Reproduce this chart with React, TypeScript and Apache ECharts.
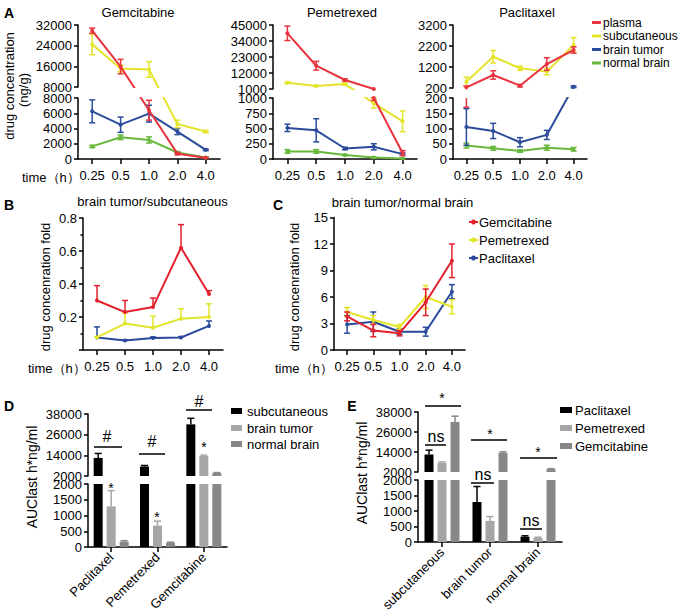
import React, { useEffect, useRef } from 'react';
import * as echarts from 'echarts';

const FONT = '"Liberation Sans", Arial, Helvetica, sans-serif';

// ---------------- Panel A data ----------------
const times = ['0.25', '0.5', '1.0', '2.0', '4.0'];
const tissues = ['plasma', 'subcutaneous', 'brain tumor', 'normal brain'];
const drugTitles = ['Gemcitabine', 'Pemetrexed', 'Paclitaxel'];

const gemPlasma = [29800, 15900, 6400, 700, 170];
const gemPlasmaErr = [1000, 2800, 1300, 150, 50];
const gemSubc = [24500, 15200, 14800, 4600, 3600];
const gemSubcErr = [4000, 1300, 3000, 500, 150];
const gemTumor = [6250, 4500, 5950, 3600, 1200];
const gemTumorErr = [1500, 1000, 1100, 400, 100];
const gemNormal = [1650, 2850, 2500, 850, 200];
const gemNormalErr = [150, 300, 400, 100, 50];

const pemPlasma = [39300, 17000, 7200, 1000, 97];
const pemPlasmaErr = [5000, 3000, 800, 40, 40];
const pemSubc = [5300, 3100, 4400, 915, 618];
const pemSubcErr = [600, 400, 800, 80, 170];
const pemTumor = [510, 470, 172, 200, 80];
const pemTumorErr = [60, 190, 20, 50, 20];
const pemNormal = [124, 124, 65, 25, 10];
const pemNormalErr = [30, 30, 10, 8, 5];

const pacPlasma = [230, 820, 310, 1340, 2010];
const pacPlasmaErr = [60, 200, 60, 300, 150];
const pacSubc = [500, 1690, 1140, 980, 2250];
const pacSubcErr = [220, 300, 100, 150, 350];
const pacTumor = [105, 92, 55, 79, 260];
const pacTumorErr = [60, 25, 15, 15, 40];
const pacNormal = [44, 35, 26, 37, 32];
const pacNormalErr = [8, 6, 4, 8, 6];

// broken y-axis ranges [min, max, interval]
const gemUpperAxis = [8000, 32000, 8000];
const gemLowerAxis = [0, 8000, 2000];
const pemUpperAxis = [1000, 45000, 11000];
const pemLowerAxis = [0, 1000, 250];
const pacUpperAxis = [200, 3200, 1000];
const pacLowerAxis = [0, 200, 50];

// ---------------- Panel B / C data ----------------
const ratioDrugs = ['Gemcitabine', 'Pemetrexed', 'Paclitaxel'];
const bGem = [0.3, 0.23, 0.26, 0.62, 0.34];
const bGemErr = [0.09, 0.07, 0.055, 0.14, 0.02];
const bPem = [0.076, 0.16, 0.135, 0.19, 0.2];
const bPemErr = [0.006, 0.065, 0.07, 0.06, 0.08];
const bPac = [0.076, 0.057, 0.073, 0.076, 0.146];
const bPacErr = [0.064, 0.005, 0.006, 0.005, 0.03];
const bAxis = [0, 0.8, 0.2];

const cGem = [3.8, 2.2, 1.9, 5.4, 10.1];
const cGemErr = [0.5, 0.7, 0.3, 1.5, 1.9];
const cPem = [4.3, 3.4, 2.6, 6.0, 4.9];
const cPemErr = [0.5, 0.5, 0.3, 1.3, 0.8];
const cPac = [2.9, 3.2, 2.07, 2.07, 6.6];
const cPacErr = [1.0, 1.1, 0.3, 0.5, 0.8];
const cAxis = [0, 15, 3];

// ---------------- Panel D / E data ----------------
const aucDrugs = ['Paclitaxel', 'Pemetrexed', 'Gemcitabine'];
const aucTissues = ['subcutaneous', 'brain tumor', 'normal brain'];
const aucSubc = [12500, 7500, 32000];
const aucSubcErr = [2600, 600, 3500];
const aucTumor = [1290, 680, 13600];
const aucTumorErr = [500, 140, 500];
const aucNormal = [170, 135, 3700];
const aucNormalErr = [30, 20, 300];
const aucUpperAxis = [2000, 38000, 12000];
const aucLowerAxis = [0, 2000, 500];

// ---------------- styles / layout ----------------
const tissueColors = ['#e8343f', '#e4e42c', '#2b4c9b', '#68b83c'];
const ratioColors = ['#e3202c', '#e2e52a', '#2a4a9c'];
const barColors = ['#000000', '#a6a6a6', '#878787'];

const grids = [
  { left: 78, top: 25, width: 142, height: 62 },
  { left: 78, top: 98, width: 142, height: 61 },
  { left: 273, top: 25, width: 144, height: 64 },
  { left: 273, top: 98, width: 144, height: 61 },
  { left: 453, top: 25, width: 134, height: 63 },
  { left: 453, top: 98, width: 134, height: 61 },
  { left: 83, top: 218, width: 140, height: 132 },
  { left: 334, top: 217.5, width: 131, height: 132.5 },
  { left: 88, top: 414, width: 139, height: 62 },
  { left: 88, top: 484, width: 139, height: 63 },
  { left: 418, top: 412, width: 144, height: 60 },
  { left: 418, top: 480, width: 144, height: 62 },
];

// Map a value into one segment of a broken axis so that a line keeps the
// piecewise (upper / gap / lower) geometry and is clipped by its own grid.
function mapBroken(v: number, seg: number, up: number[], lo: number[], gU: any, gL: any) {
  const uPPU = gU.height / (up[1] - up[0]);
  const lPPU = gL.height / (lo[1] - lo[0]);
  const gapPx = gL.top - (gU.top + gU.height);
  if (seg === 0) {
    if (v >= up[0]) return v;
    const px = gapPx + (lo[1] - v) * lPPU;
    return up[0] - px / uPPU;
  }
  if (v <= lo[1]) return v;
  const px = gapPx + (v - up[0]) * uPPU;
  return lo[1] + px / lPPU;
}

const errorBar =
  (color: string, offset: number, twoSided: boolean, cap: number, width: number) =>
  (params: any, api: any) => {
    const i = api.value(0);
    const lo = api.value(1);
    const hi = api.value(2);
    const cs = params.coordSys;
    const top = api.coord([i, hi]);
    const bot = api.coord([i, lo]);
    const x = top[0] + offset;
    const yMin = cs.y;
    const yMax = cs.y + cs.height;
    const y1 = top[1];
    const y2 = bot[1];
    if (y2 < yMin + 0.5 || y1 > yMax - 0.5) return null;
    const st = { stroke: color, lineWidth: width };
    const children: any[] = [
      { type: 'line', shape: { x1: x, y1: Math.max(y1, yMin), x2: x, y2: Math.min(y2, yMax) }, style: st },
    ];
    if (y1 >= yMin - 0.5) children.push({ type: 'line', shape: { x1: x - cap, y1, x2: x + cap, y2: y1 }, style: st });
    if (twoSided && y2 <= yMax + 0.5)
      children.push({ type: 'line', shape: { x1: x - cap, y1: y2, x2: x + cap, y2 }, style: st });
    return { type: 'group', children };
  };

function xAxisDef(gridIndex: number, data: string[], show: boolean, rotate = 0) {
  return {
    type: 'category',
    gridIndex,
    data,
    show,
    boundaryGap: true,
    axisLine: { show: true, onZero: false, lineStyle: { color: '#000', width: 1.5 } },
    axisTick: { show: true, alignWithLabel: true, length: 5, lineStyle: { color: '#000', width: 1.5 } },
    axisLabel: {
      color: '#000',
      fontSize: 13,
      fontFamily: FONT,
      margin: rotate ? 8 : 10,
      interval: 0,
      rotate,
    },
  };
}

function yAxisDef(gridIndex: number, ax: number[], extra: any = {}) {
  return {
    type: 'value',
    gridIndex,
    min: ax[0],
    max: ax[1],
    interval: ax[2],
    splitLine: { show: false },
    axisLine: { show: true, lineStyle: { color: '#000', width: 1.5 } },
    axisTick: { show: true, length: 4, lineStyle: { color: '#000', width: 1.5 } },
    axisLabel: {
      color: '#000',
      fontSize: 13,
      fontFamily: FONT,
      margin: 6,
      showMinLabel: true,
      showMaxLabel: true,
      formatter: (v: number) => String(v),
    },
    ...extra,
  };
}

function buildOption() {
  const xAxis: any[] = [];
  const yAxis: any[] = [];
  const series: any[] = [];

  // ---- Panel A ----
  const aValues = [
    [gemPlasma, gemSubc, gemTumor, gemNormal],
    [pemPlasma, pemSubc, pemTumor, pemNormal],
    [pacPlasma, pacSubc, pacTumor, pacNormal],
  ];
  const aErrs = [
    [gemPlasmaErr, gemSubcErr, gemTumorErr, gemNormalErr],
    [pemPlasmaErr, pemSubcErr, pemTumorErr, pemNormalErr],
    [pacPlasmaErr, pacSubcErr, pacTumorErr, pacNormalErr],
  ];
  const aAxes = [
    [gemUpperAxis, gemLowerAxis],
    [pemUpperAxis, pemLowerAxis],
    [pacUpperAxis, pacLowerAxis],
  ];
  for (let d = 0; d < 3; d++) {
    const gU = grids[d * 2];
    const gL = grids[d * 2 + 1];
    const [up, lo] = aAxes[d];
    for (let s = 0; s < 2; s++) {
      const gi = d * 2 + s;
      xAxis.push(xAxisDef(gi, times, s === 1));
      yAxis.push(yAxisDef(gi, aAxes[d][s]));
      const m = (v: number) => mapBroken(v, s, up, lo, gU, gL);
      for (let t = 3; t >= 0; t--) {
        const color = tissueColors[t];
        const vals = aValues[d][t];
        const errs = aErrs[d][t];
        series.push({
          type: 'line',
          name: tissues[t],
          xAxisIndex: gi,
          yAxisIndex: gi,
          data: vals.map(m),
          clip: true,
          symbol: 'circle',
          symbolSize: 4,
          lineStyle: { color, width: 2 },
          itemStyle: { color },
          z: 10 - t,
        });
        series.push({
          type: 'custom',
          xAxisIndex: gi,
          yAxisIndex: gi,
          data: vals.map((v, i) => [i, m(v - errs[i]), m(v + errs[i])]),
          renderItem: errorBar(color, 0, true, 3, 1.5),
          z: 10 - t,
        });
      }
    }
  }

  // ---- Panel B ----
  xAxis.push(xAxisDef(6, times, true));
  yAxis.push(
    yAxisDef(6, bAxis, {
      minorTick: { show: true, splitNumber: 2, length: 2.5, lineStyle: { color: '#000', width: 1.5 } },
      minorSplitLine: { show: false },
      axisLabel: {
        color: '#000',
        fontSize: 13,
        fontFamily: FONT,
        margin: 6,
        formatter: (v: number) => (v === 0 ? '' : v.toFixed(1)),
      },
    })
  );
  const bVals = [bGem, bPem, bPac];
  const bErrs = [bGemErr, bPemErr, bPacErr];
  for (let k = 2; k >= 0; k--) {
    const color = ratioColors[k];
    series.push({
      type: 'line',
      name: ratioDrugs[k],
      xAxisIndex: 6,
      yAxisIndex: 6,
      data: bVals[k],
      symbol: 'circle',
      symbolSize: 4,
      lineStyle: { color, width: 2 },
      itemStyle: { color },
      z: 10 - k,
    });
    series.push({
      type: 'custom',
      xAxisIndex: 6,
      yAxisIndex: 6,
      data: bVals[k].map((v, i) => [i, v, v + bErrs[k][i]]),
      renderItem: errorBar(color, 0, false, 3, 1.5),
      z: 10 - k,
    });
  }

  // ---- Panel C ----
  xAxis.push(xAxisDef(7, times, true));
  yAxis.push(yAxisDef(7, cAxis));
  const cVals = [cGem, cPem, cPac];
  const cErrs = [cGemErr, cPemErr, cPacErr];
  for (const k of [1, 2, 0]) {
    const color = ratioColors[k];
    series.push({
      type: 'line',
      name: ratioDrugs[k],
      xAxisIndex: 7,
      yAxisIndex: 7,
      data: cVals[k],
      symbol: 'circle',
      symbolSize: 4,
      lineStyle: { color, width: 2 },
      itemStyle: { color },
      z: 10 - k,
    });
    series.push({
      type: 'custom',
      xAxisIndex: 7,
      yAxisIndex: 7,
      data: cVals[k].map((v, i) => [i, v - cErrs[k][i], v + cErrs[k][i]]),
      renderItem: errorBar(color, 0, true, 3, 1.5),
      z: 10 - k,
    });
  }

  // ---- Panels D and E ----
  const byTissue = [aucSubc, aucTumor, aucNormal];
  const byTissueErr = [aucSubcErr, aucTumorErr, aucNormalErr];
  const barW = 9;
  const gap = 4;
  for (let s = 0; s < 2; s++) {
    // D: categories = drugs, series = tissues
    const gi = 8 + s;
    xAxis.push(xAxisDef(gi, aucDrugs, s === 1, 45));
    yAxis.push(yAxisDef(gi, s === 0 ? aucUpperAxis : aucLowerAxis));
    for (let t = 0; t < 3; t++) {
      series.push({
        type: 'bar',
        name: aucTissues[t],
        xAxisIndex: gi,
        yAxisIndex: gi,
        data: byTissue[t],
        barWidth: barW,
        barGap: (gap / barW) * 100 + '%',
        clip: true,
        itemStyle: { color: barColors[t] },
      });
      series.push({
        type: 'custom',
        xAxisIndex: gi,
        yAxisIndex: gi,
        data: byTissue[t].map((v, i) => [i, v, v + byTissueErr[t][i]]),
        renderItem: errorBar(barColors[t], (t - 1) * (barW + gap), false, 3.5, 1.5),
        z: 5,
      });
    }
  }
  for (let s = 0; s < 2; s++) {
    // E: categories = tissues, series = drugs
    const gi = 10 + s;
    xAxis.push(xAxisDef(gi, aucTissues, s === 1, 45));
    yAxis.push(yAxisDef(gi, s === 0 ? aucUpperAxis : aucLowerAxis));
    for (let d = 0; d < 3; d++) {
      const vals = byTissue.map((arr) => arr[d]);
      const errs = byTissueErr.map((arr) => arr[d]);
      series.push({
        type: 'bar',
        name: aucDrugs[d],
        xAxisIndex: gi,
        yAxisIndex: gi,
        data: vals,
        barWidth: barW,
        barGap: (gap / barW) * 100 + '%',
        clip: true,
        itemStyle: { color: barColors[d] },
      });
      series.push({
        type: 'custom',
        xAxisIndex: gi,
        yAxisIndex: gi,
        data: vals.map((v, i) => [i, v, v + errs[i]]),
        renderItem: errorBar(barColors[d], (d - 1) * (barW + gap), false, 3.5, 1.5),
        z: 5,
      });
    }
  }

  // ---- graphic: titles, labels, legends, annotations ----
  const txt = (text: string, x: number, y: number, size = 13, opts: any = {}) => ({
    type: 'text',
    x,
    y,
    rotation: opts.rotation || 0,
    silent: true,
    style: {
      text,
      fill: '#000',
      fontSize: size,
      fontFamily: opts.family || FONT,
      fontWeight: opts.bold ? 'bold' : 'normal',
      align: opts.align || 'center',
      verticalAlign: 'middle',
      textAlign: opts.align || 'center',
      textVerticalAlign: 'middle',
    },
  });
  const hline = (x1: number, x2: number, y: number) => ({
    type: 'line',
    silent: true,
    shape: { x1, y1: y, x2, y2: y },
    style: { stroke: '#000', lineWidth: 1.5 },
  });
  const V = Math.PI / 2;
  const graphic: any[] = [
    txt('A', 9, 12.5, 14, { bold: true }),
    txt('B', 9, 205, 14, { bold: true }),
    txt('C', 278, 205, 14, { bold: true }),
    txt('D', 9, 406, 14, { bold: true }),
    txt('E', 352, 406, 14, { bold: true }),
    txt(drugTitles[0], 138, 12, 13),
    txt(drugTitles[1], 342, 12, 13),
    txt(drugTitles[2], 527, 12, 13),
    txt('drug concentration', 9, 86, 13, { rotation: V }),
    txt('(ng/g)', 23.5, 90, 13, { rotation: V }),
    txt('time（h）', 22, 177, 13, { align: 'left' }),
    txt('brain tumor/subcutaneous', 152.5, 201, 13),
    txt('brain tumor/normal brain', 402.5, 202, 13),
    txt('drug concenration fold', 45, 287, 13, { rotation: V }),
    txt('drug concenration fold', 294.5, 287, 13, { rotation: V }),
    txt('time（h）', 28, 368, 13, { align: 'left' }),
    txt('time（h）', 275, 368, 13, { align: 'left' }),
    txt('AUClast h*ng/ml', 32, 477, 14, { rotation: V }),
    txt('AUClast h*ng/ml', 362, 473, 14, { rotation: V }),
  ];

  const aLegY = [22.5, 36, 49.5, 63];
  tissues.forEach((name, t) => {
    graphic.push({
      type: 'rect',
      silent: true,
      shape: { x: 592, y: aLegY[t] - 1.5, width: 9, height: 3 },
      style: { fill: tissueColors[t] },
    });
    graphic.push(txt(name, 603, aLegY[t], 12, { align: 'left' }));
  });

  const cLegY = [222, 240, 258];
  ratioDrugs.forEach((name, k) => {
    graphic.push({
      type: 'line',
      silent: true,
      shape: { x1: 469, y1: cLegY[k], x2: 478, y2: cLegY[k] },
      style: { stroke: ratioColors[k], lineWidth: 2 },
    });
    graphic.push({
      type: 'circle',
      silent: true,
      shape: { cx: 473.5, cy: cLegY[k], r: 2.5 },
      style: { fill: ratioColors[k] },
    });
    graphic.push(txt(name, 479, cLegY[k], 13, { align: 'left' }));
  });

  const dLegY = [411, 428, 444];
  aucTissues.forEach((name, t) => {
    graphic.push({
      type: 'rect',
      silent: true,
      shape: { x: 231, y: dLegY[t] - 3, width: 11, height: 6 },
      style: { fill: barColors[t] },
    });
    graphic.push(txt(name, 247, dLegY[t], 13, { align: 'left' }));
  });

  const eLegY = [410, 428, 446];
  aucDrugs.forEach((name, d) => {
    graphic.push({
      type: 'rect',
      silent: true,
      shape: { x: 560, y: eLegY[d] - 3, width: 12, height: 6 },
      style: { fill: barColors[d] },
    });
    graphic.push(txt(name, 575, eLegY[d], 13, { align: 'left' }));
  });

  graphic.push(txt('#', 107, 436, 16), hline(94, 122, 447));
  graphic.push(txt('#', 152, 441.5, 16), hline(139, 165, 454));
  graphic.push(txt('#', 199, 401, 16), hline(186, 212, 410));
  graphic.push(txt('*', 111, 488, 14), txt('*', 157, 517, 14), txt('*', 204, 447, 14));

  graphic.push(txt('*', 442, 398, 14), hline(425, 461, 406));
  graphic.push(txt('ns', 436, 436, 16), hline(425, 446, 445));
  graphic.push(txt('*', 490, 434, 14), hline(471, 507, 440));
  graphic.push(txt('ns', 483, 474, 16), hline(471, 494, 483));
  graphic.push(txt('*', 538, 452, 14), hline(520, 557, 458));
  graphic.push(txt('ns', 531, 520, 16), hline(520, 542, 529));

  return {
    animation: false,
    backgroundColor: '#ffffff',
    textStyle: { fontFamily: FONT },
    grid: grids.map((g) => ({ ...g, containLabel: false, outerBoundsMode: 'none' })),
    xAxis,
    yAxis,
    series,
    graphic,
  };
}

export default function App() {
  const ref = useRef<HTMLDivElement>(null);
  useEffect(() => {
    if (!ref.current) return;
    const chart = echarts.init(ref.current, null, { renderer: 'svg' });
    chart.setOption(buildOption() as any);
    return () => chart.dispose();
  }, []);
  return (
    <div
      ref={ref}
      style={{ position: 'fixed', left: 0, top: 0, width: 685, height: 614, background: '#fff' }}
    />
  );
}
